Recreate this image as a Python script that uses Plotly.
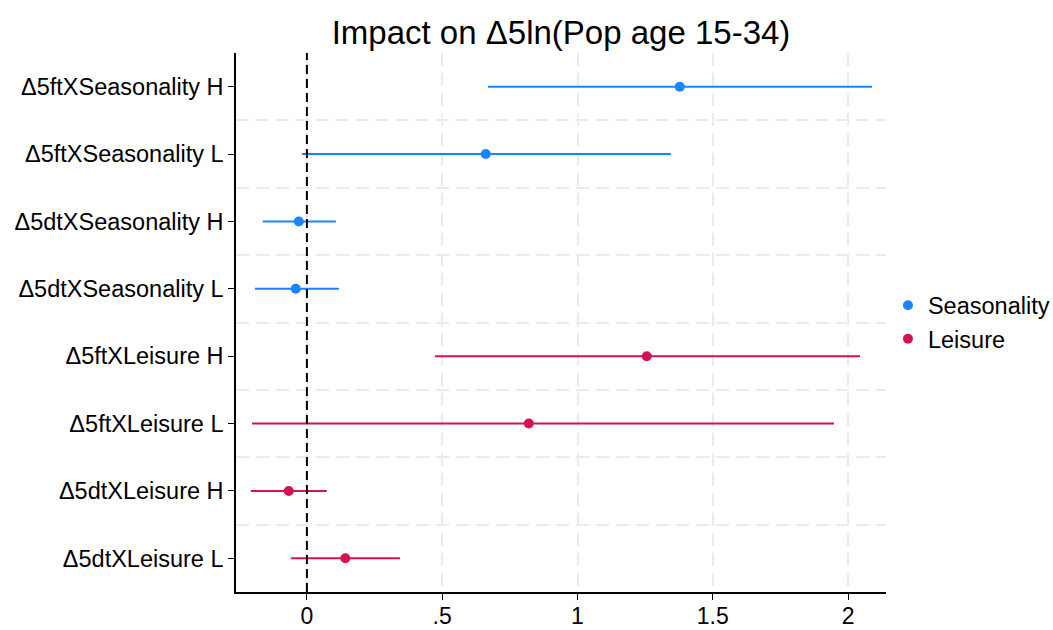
import plotly.graph_objects as go

# Data (bottom to top)
labels = ["Δ5dtXLeisure L", "Δ5dtXLeisure H", "Δ5ftXLeisure L", "Δ5ftXLeisure H",
          "Δ5dtXSeasonality L", "Δ5dtXSeasonality H", "Δ5ftXSeasonality L", "Δ5ftXSeasonality H"]
leis_pos = [0, 1, 2, 3]
leis_est = [0.142, -0.067, 0.820, 1.256]
leis_lo = [-0.059, -0.207, -0.203, 0.473]
leis_hi = [0.344, 0.073, 1.948, 2.044]
seas_pos = [4, 5, 6, 7]
seas_est = [-0.041, -0.030, 0.661, 1.378]
seas_lo = [-0.192, -0.163, -0.018, 0.669]
seas_hi = [0.118, 0.107, 1.345, 2.088]
xticks = [0, 0.5, 1, 1.5, 2]
xticktext = ["0", ".5", "1", "1.5", "2"]

BLUE = "#1A85FF"
RED = "#D41159"
GRID = "#EBEBEB"

fig = go.Figure()

def add_series(name, pos, est, lo, hi, color):
    fig.add_trace(go.Scatter(
        x=est, y=pos, mode="markers", name=name,
        marker=dict(color=color, size=10),
        error_x=dict(type="data", symmetric=False,
                     array=[h - e for h, e in zip(hi, est)],
                     arrayminus=[e - l for e, l in zip(est, lo)],
                     color=color, thickness=2, width=0),
    ))

add_series("Seasonality", seas_pos, seas_est, seas_lo, seas_hi, BLUE)
add_series("Leisure", leis_pos, leis_est, leis_lo, leis_hi, RED)

fig.add_shape(type="line", x0=0, x1=0, y0=0, y1=1, xref="x", yref="paper",
              line=dict(color="black", width=2, dash="9px,5px"), layer="above")

fig.update_layout(
    width=1053, height=630,
    margin=dict(l=236, r=167, t=53, b=38, autoexpand=False),
    paper_bgcolor="white", plot_bgcolor="white",
    font=dict(family="Liberation Sans, Arial, sans-serif", size=23.5, color="black"),
    title=dict(text="Impact on Δ5ln(Pop age 15-34)", x=(236 + 886) / 2 / 1053, xanchor="center",
               y=1 - 32 / 630, yanchor="middle", font=dict(size=33)),
    legend=dict(x=1.003, y=0.5, xanchor="left", yanchor="middle", font=dict(size=23.5),
                itemwidth=30, tracegroupgap=4),
    showlegend=True,
)

fig.update_xaxes(range=[-0.262, 2.14], tickvals=xticks, ticktext=xticktext,
                 showline=True, linecolor="black", linewidth=1.5,
                 ticks="outside", ticklen=6, tickcolor="black", automargin=False,
                 ticklabelstandoff=-3, tickfont=dict(size=23),
                 showgrid=True, gridcolor=GRID, griddash="13px,7px", gridwidth=2,
                 zeroline=False)
fig.update_yaxes(range=[-0.5, 7.5], tickvals=list(range(8)), ticktext=labels,
                 showline=True, linecolor="black", linewidth=1.5,
                 ticks="outside", ticklen=6, tickcolor="black", automargin=False,
                 showgrid=False, zeroline=False,
                 minor=dict(tickvals=[i + 0.5 for i in range(7)], showgrid=True,
                            gridcolor=GRID, griddash="13px,7px", gridwidth=2, ticks=""))

fig.write_html("out.html")
